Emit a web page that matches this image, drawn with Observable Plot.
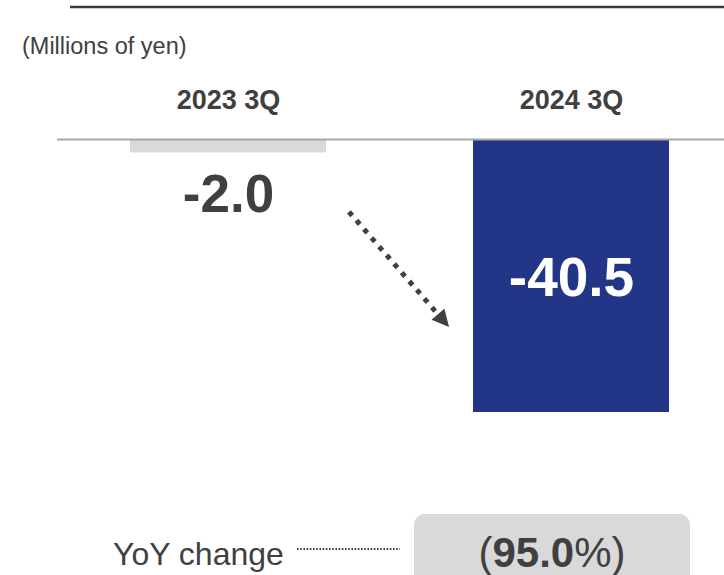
<!DOCTYPE html>
<html><head><meta charset="utf-8">
<script src="https://cdn.jsdelivr.net/npm/d3@7"></script>
<script src="https://cdn.jsdelivr.net/npm/@observablehq/plot@0.6"></script>
<style>html,body{margin:0;padding:0;background:#fff} svg{display:block}</style>
</head><body><div id="chart"></div>
<script>
// ---- data ----
const categories = ["2023 3Q", "2024 3Q"];
const values = [-2.0, -40.5];
const valueLabels = ["-2.0", "-40.5"];
const barColors = ["#d9d9d9", "#233587"];
const unitLabel = "(Millions of yen)";
const yoyLabel = "YoY change";
const yoyValue = "95.0";

const rows = categories.map((c, i) => ({category: c, value: values[i], label: valueLabels[i], color: barColors[i]}));
const FONT = "'Liberation Sans', Arial, Helvetica, sans-serif";
const INK = "#404040";

const chart = Plot.plot({
  width: 724, height: 575,
  marginLeft: 57, marginRight: 0, marginTop: 139, marginBottom: 163,
  style: {fontFamily: FONT, background: "#fff", overflow: "visible"},
  x: {domain: categories, range: [130, 669], paddingInner: 0.4286, paddingOuter: 0, axis: null},
  y: {domain: [d3.min(values), 0], axis: null},
  color: {type: "identity"},
  marks: [
    Plot.barY(rows, {x: "category", y: "value", fill: "color"}),
    Plot.ruleY([0], {stroke: "#a6a6a6", strokeWidth: 2}),
    Plot.text(rows, {x: "category", y: () => 0, text: "category", dy: -39, fontSize: 27, fontWeight: "bold", fill: INK, lineAnchor: "middle"}),
    Plot.text(rows.filter(d => Math.abs(d.value) < 10), {x: "category", y: "value", text: "label", dy: 42, fontSize: 53, fontWeight: "bold", fill: INK, lineAnchor: "middle"}),
    Plot.text(rows.filter(d => Math.abs(d.value) >= 10), {x: "category", y: d => d.value / 2, text: "label", dy: 2, fontSize: 55, fontWeight: "bold", fill: "#fff", lineAnchor: "middle"})
  ]
});
document.getElementById("chart").appendChild(chart);

// ---- annotations using the chart's own scales ----
const svg = d3.select(chart);
const xs = chart.scale("x"), ys = chart.scale("y");
const bw = xs.bandwidth;

// top rule
svg.append("line").attr("x1", 70).attr("x2", 724).attr("y1", 7).attr("y2", 7)
  .attr("stroke", "#3a3a3a").attr("stroke-width", 2.5);
// unit label
svg.append("text").attr("x", 22).attr("y", 54).attr("font-size", 23.5).attr("fill", INK)
  .attr("text-anchor", "start").attr("font-family", FONT).text(unitLabel);

// dotted trend arrow between the two bars
const arrowFrom = {category: categories[0], frac: 1.117, value: -10.8};
const arrowTo = {category: categories[1], frac: -0.122, value: -27.9};
const p0 = [xs.apply(arrowFrom.category) + arrowFrom.frac * bw, ys.apply(arrowFrom.value)];
const p1 = [xs.apply(arrowTo.category) + arrowTo.frac * bw, ys.apply(arrowTo.value)];
const dx = p1[0] - p0[0], dy = p1[1] - p0[1], L = Math.hypot(dx, dy);
const u = [dx / L, dy / L], n = [-u[1], u[0]];
const headLen = 17, headHalf = 8.5;
svg.append("line").attr("x1", p0[0]).attr("y1", p0[1])
  .attr("x2", p1[0] - u[0] * (headLen - 2)).attr("y2", p1[1] - u[1] * (headLen - 2))
  .attr("stroke", INK).attr("stroke-width", 5).attr("stroke-dasharray", "5 6.5");
const base = [p1[0] - u[0] * headLen, p1[1] - u[1] * headLen];
svg.append("path").attr("fill", INK)
  .attr("d", `M${p1[0]},${p1[1]}L${base[0] + n[0] * headHalf},${base[1] + n[1] * headHalf}L${base[0] - n[0] * headHalf},${base[1] - n[1] * headHalf}Z`);

// YoY row
const yoyY = 553;
svg.append("text").attr("x", 113).attr("y", yoyY + 12).attr("font-size", 32).attr("fill", INK)
  .attr("text-anchor", "start").attr("font-family", FONT).text(yoyLabel);
svg.append("line").attr("x1", 297).attr("x2", 400).attr("y1", yoyY - 4).attr("y2", yoyY - 4)
  .attr("stroke", INK).attr("stroke-width", 2).attr("stroke-dasharray", "1.6 1.6");
const boxX0 = 414, boxX1 = 690;
svg.append("rect").attr("x", boxX0).attr("y", 514).attr("width", boxX1 - boxX0).attr("height", 90)
  .attr("rx", 11).attr("fill", "#d9d9d9");
const t = svg.append("text").attr("x", (boxX0 + boxX1) / 2).attr("y", yoyY + 14).attr("text-anchor", "middle")
  .attr("font-size", 42).attr("fill", INK).attr("font-family", FONT);
t.append("tspan").text("(");
t.append("tspan").attr("font-weight", "bold").text(yoyValue);
t.append("tspan").text("%)");
</script>
</body></html>
